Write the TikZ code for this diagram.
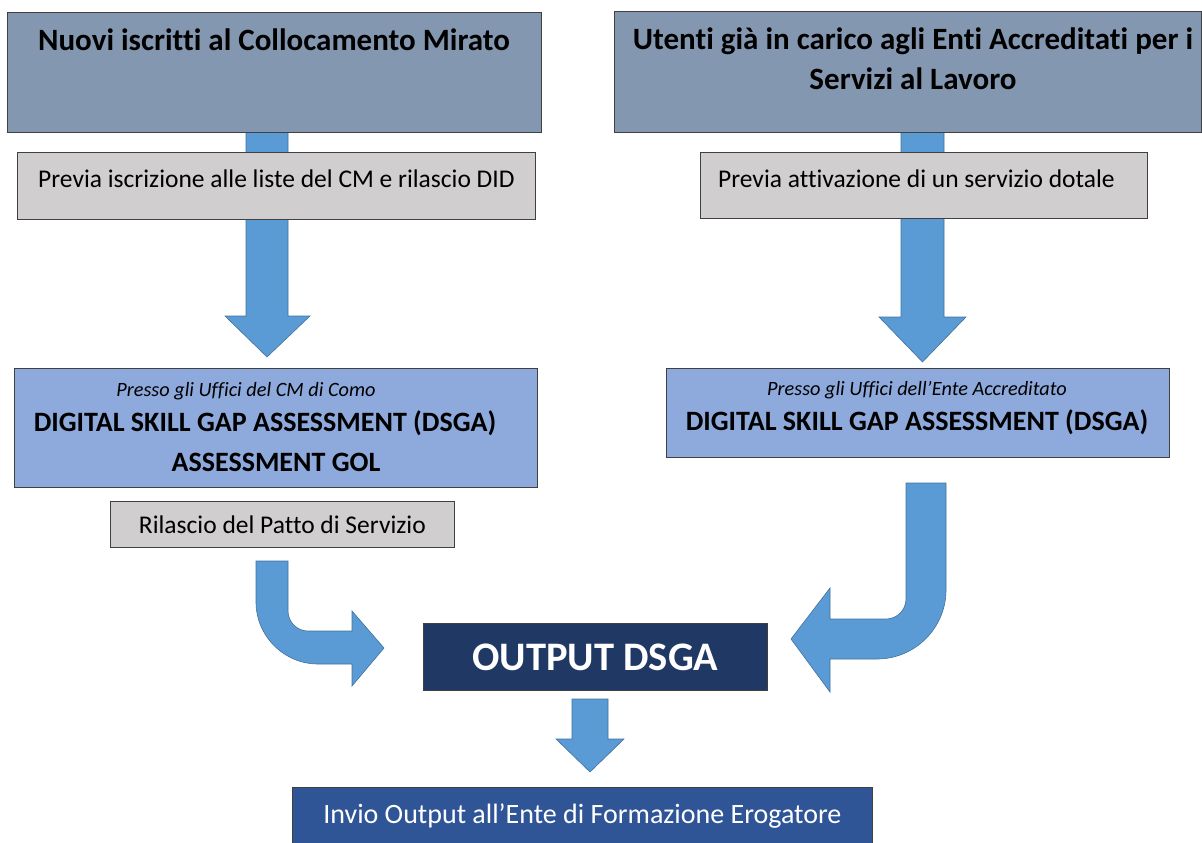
\documentclass[tikz,border=0pt]{standalone}
\usepackage{fontspec}
\setmainfont{Carlito}[Ligatures=NoCommon]
\definecolor{headfill}{HTML}{8497B0}
\definecolor{notefill}{HTML}{D0CECE}
\definecolor{dsgafill}{HTML}{8EA9DB}
\definecolor{outfill}{HTML}{203864}
\definecolor{sendfill}{HTML}{2F5597}
\definecolor{arrfill}{HTML}{5B9BD5}
\definecolor{arrline}{HTML}{41719C}
\tikzset{
	box/.style={draw=black!75, line width=0.8pt, inner sep=0pt, anchor=north west},
	headbox/.style={box, fill=headfill},
	notebox/.style={box, fill=notefill, font=\fontsize{25.5}{30}\selectfont},
	dsgabox/.style={box, fill=dsgafill},
	smalltext/.style={font=\itshape\fontsize{20.3}{24}\selectfont},
	dsgatext/.style={font=\bfseries\fontsize{28}{32}\selectfont},
	blockarrow/.style={fill=arrfill, draw=arrline, line width=0.6pt, line join=miter},
	headtext/.style={font=\bfseries\fontsize{31}{40}\selectfont, align=center}
}
\begin{document}
\begin{tikzpicture}[x=1pt, y=-1pt]
			\useasboundingbox (0,0) rectangle (1202,843);
			
			% block arrows first, boxes cover their ends
			\draw[blockarrow] (246,132) -- (288,132) -- (288,316) -- (310,316) -- (267,357) -- (225,316) -- (246,316) -- cycle;
			\draw[blockarrow] (901,132) -- (944,132) -- (944,317) -- (966,317) -- (922.5,362) -- (879,317) -- (901,317) -- cycle;
			
			\node[headbox, minimum width=534pt, minimum height=120pt] (nuovi) at (7,12){};
			\node[headbox, minimum width=587pt, minimum height=121pt] (utenti) at (614,11){};
			\node[headtext] (nuovitxt) at (274,40){Nuovi iscritti al Collocamento Mirato};
			\node[headtext] (utentitxt) at (913,59){Utenti già in carico agli Enti Accreditati per i\\Servizi al Lavoro};
			
			\node[notebox, text depth=14pt, minimum width=518pt, minimum height=67pt] (previa1) at (17,152){Previa iscrizione alle liste del CM e rilascio DID};
			\node[notebox, text depth=14pt, minimum width=447pt, minimum height=66pt] (previa2) at (700,152){Previa attivazione di un servizio dotale\hspace*{15pt}};
			
			\node[dsgabox, minimum width=523pt, minimum height=119pt] (dsga1) at (14,368){};
			\node[smalltext] (dsga1a) at (246,391){Presso gli Uffici del CM di Como};
			\node[dsgatext] (dsga1b) at (265,423){DIGITAL SKILL GAP ASSESSMENT (DSGA)};
			\node[dsgatext] (dsga1c) at (276,462){ASSESSMENT GOL};
			
			\node[dsgabox, minimum width=503pt, minimum height=89pt] (dsga2) at (666,368){};
			\node[smalltext] (dsga2a) at (917,390){Presso gli Uffici dell’Ente Accreditato};
			\node[dsgatext] (dsga2b) at (917,422){DIGITAL SKILL GAP ASSESSMENT (DSGA)};
			
			\node[notebox, minimum width=344pt, minimum height=46pt] (patto) at (110,501){Rilascio del Patto di Servizio};
			
			\node[box, fill=outfill, text=white, font=\bfseries\fontsize{40.5}{46}\selectfont, minimum width=344pt, minimum height=67pt] (output) at (423,623){OUTPUT DSGA};
			\node[box, fill=sendfill, text=white, font=\fontsize{28}{32}\selectfont, minimum width=580pt, minimum height=58pt] (invio) at (292,787){Invio Output all’Ente di Formazione Erogatore};
			
			\draw[blockarrow] (256,561) -- (288,561) -- (288,611) .. controls (288,622) and (297,631) .. (308,631) -- (352,631) -- (352,611) -- (384,648) -- (352,686) -- (352,664) -- (318,664) .. controls (284,664) and (256,636) .. (256,602) -- cycle;
			\draw[blockarrow] (906,483) -- (946,483) -- (946,590) .. controls (946,628) and (915,659) .. (877,659) -- (830,659) -- (830,692) -- (791,639) -- (830,588) -- (830,619) -- (886,619) .. controls (897,619) and (906,610) .. (906,599) -- cycle;
			\draw[blockarrow] (572,699) -- (608,699) -- (608,739) -- (624,739) -- (590,772) -- (556,739) -- (572,739) -- cycle;
			%\draw (output) -- (invio);
		\end{tikzpicture}
\end{document}
